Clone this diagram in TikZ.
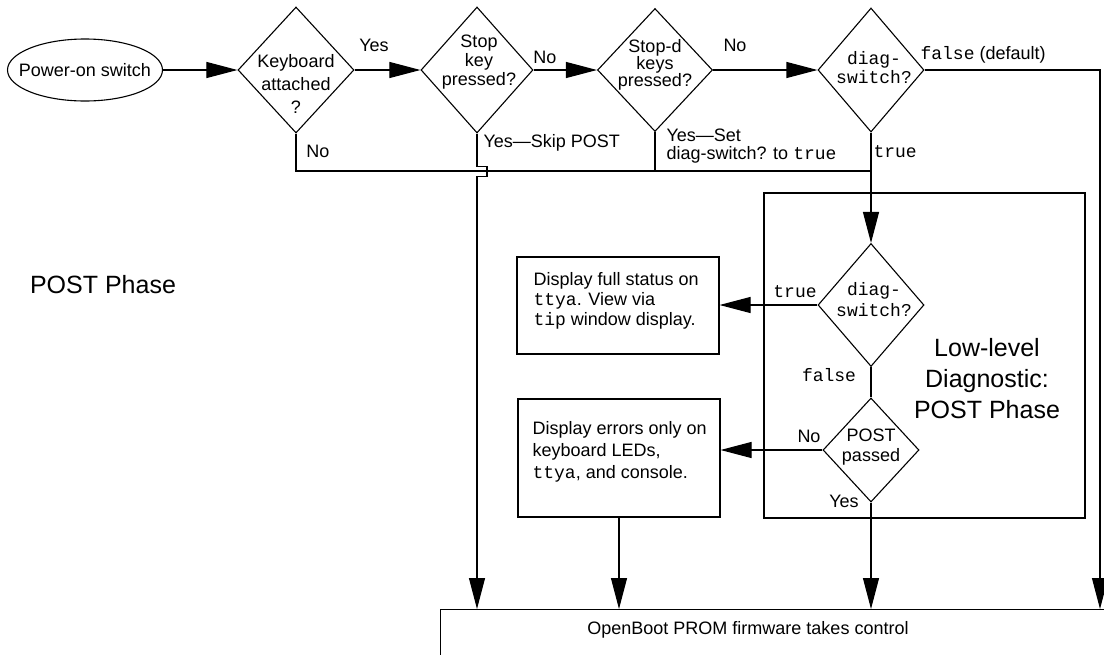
\documentclass[tikz,border=0pt]{standalone}
\usepackage{fontspec}
\setmainfont{Liberation Sans}
\setmonofont{Liberation Mono}
\usetikzlibrary{shapes.geometric,arrows.meta,positioning}

\newcommand{\nfont}{\fontsize{18}{21}\selectfont}
\newcommand{\bigfont}{\fontsize{25}{31}\selectfont}

\begin{document}
\begin{tikzpicture}[x=1pt, y=-1pt, line width=1.1pt,
    >={Triangle[length=31pt,width=16pt]},
    every node/.style={font=\nfont, inner sep=0pt},
    dec/.style={draw, diamond, inner sep=0pt},
    box/.style={draw, rectangle},
    dt/.style={align=center, font=\fontsize{18}{#1}\selectfont},
    tt/.style={align=center, font=\ttfamily\fontsize{18}{#1}\selectfont}]
    \useasboundingbox (0,0) rectangle (1104,654);

    % top row
    \node[draw, ellipse, minimum width=155pt, minimum height=62pt,
        label=center:Power-on switch] (pw) at (85,70) {};
    \node[dec, minimum width=116pt, minimum height=126pt,
        label={[dt=23, yshift=-14pt]center:Keyboard\\attached\\?}] (kb) at (296,70) {};
    \node[dec, minimum width=112pt, minimum height=126pt,
        label={[dt=19, yshift=8pt, xshift=2pt]center:Stop\\key\\pressed?}] (sk) at (477,70) {};
    \node[dec, minimum width=115pt, minimum height=123pt,
        label={[dt=17, yshift=5pt]center:Stop-d\\keys\\pressed?}] (sd) at (655,70) {};
    \node[dec, minimum width=106pt, minimum height=124pt,
        label={[tt=19, yshift=2pt, xshift=3pt]center:diag-\\switch?}] (dg) at (871,70) {};

    % low-level diagnostic
    \node[box, minimum width=321pt, minimum height=325pt] (grp) at (924.5,355.5) {};
    \node[align=center, font=\bigfont] (grpt) at (987,379) {Low-level\\Diagnostic:\\POST Phase};
    \node[dec, minimum width=106pt, minimum height=123pt,
        label={[tt=21, yshift=5pt, xshift=3pt]center:diag-\\switch?}] (dg2) at (871,305) {};
    \node[dec, minimum width=96pt, minimum height=104pt,
        label={[dt=20, yshift=3pt]center:POST\\passed}] (ps) at (871,450) {};

    % output boxes
    \node[box, minimum width=202pt, minimum height=97pt] (full) at (618,305.5) {};
    \node[anchor=north west, align=left, font=\fontsize{18}{20}\selectfont] (fullt) at (533,272)
        {Display full status on\\\texttt{ttya}. View via\\\texttt{tip} window display.};
    \node[box, minimum width=202pt, minimum height=118pt] (err) at (619,458) {};
    \node[anchor=north west, align=left, font=\fontsize{18}{22}\selectfont] (errt) at (532,421)
        {Display errors only on\\keyboard LEDs,\\\texttt{ttya}, and console.};
    \node[box, anchor=north west, minimum width=720pt, minimum height=80pt] (ob) at (439.5,609) {};
    \node (obt) at (748,630) {OpenBoot PROM firmware takes control};

    \node[font=\bigfont] (post) at (103,285) {POST Phase};

    % labels
    \node (yes1) at (374,45) {Yes};
    \node (no1) at (545,57) {No};
    \node (no2) at (735,45) {No};
    \node (no3) at (318,151) {No};
    \node[anchor=west] (skip) at (483,143) {Yes---Skip POST};
    \node[anchor=west, align=left, font=\fontsize{18}{18}\selectfont] (set) at (666,146)
        {Yes---Set\\diag-switch? to \texttt{true}};
    \node[anchor=west] (dflt) at (920,55) {\texttt{false} (default)};
    \node[anchor=west] (tr1) at (873,152) {\texttt{true}};
    \node (tr2) at (795,292) {\texttt{true}};
    \node (fl2) at (829,375) {\texttt{false}};
    \node (no4) at (809,436) {No};
    \node (yes2) at (844,501) {Yes};

    \coordinate (j) at (871,171);
    \coordinate (rt) at (1100,609);

    % connectors
    \draw[->] (pw) -- (kb);
    \draw[->] (kb) -- (sk);
    \draw[->] (sk) -- (sd);
    \draw[->] (sd) -- (dg);
    \draw (kb.south) |- (j);
    \draw (sd.south) -- (sd.south |- j);
    \draw[->] (dg) -- (dg2);
    \draw[->] (dg.east) -| (rt);
    \draw[->] (sk.south) -- ++(0,33) -- ++(10,0) -- ++(0,10) -- ++(-10,0) -- (sk.south |- ob.north);
    \draw[->] (dg2.west) -- (dg2.west -| full.east);
    \draw (dg2) -- (ps);
    \draw[->] (ps.west) -- (ps.west -| err.east);
    \draw[->] (ps.south) -- (ps.south |- ob.north);
    \draw[->] (err.south) -- (err.south |- ob.north);

\end{tikzpicture}
\end{document}
